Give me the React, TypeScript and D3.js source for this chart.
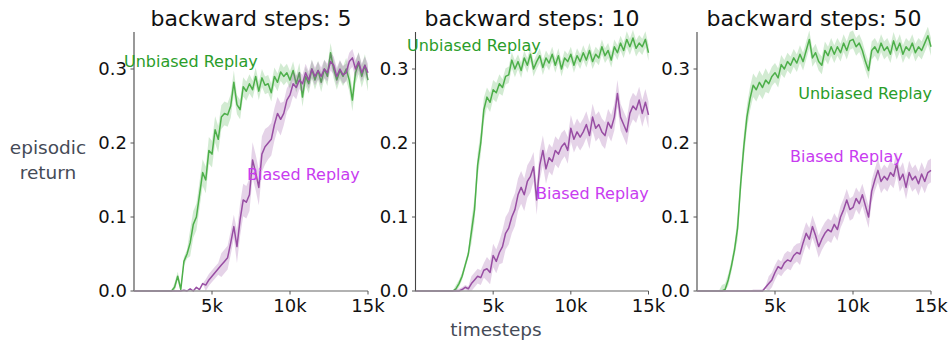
import React from "react";
import * as d3 from "d3";

const STEP = 200;
const TITLES = ["backward steps: 5", "backward steps: 10", "backward steps: 50"];
const X_TICKS = [5000, 10000, 15000];
const X_TICK_LABELS = ["5k", "10k", "15k"];
const Y_TICKS = [0, 0.1, 0.2, 0.3];
const SERIES_NAMES = ["Unbiased Replay", "Biased Replay"];

const unbiased5 = [
  0, 0, 0, 0, 0, 0, 0, 0, 0, 0, 0, 0, 0, 0.005, 0.02, 0.002, 0.04, 0.05, 0.065, 0.09,
  0.1, 0.13, 0.16, 0.15, 0.19, 0.185, 0.218, 0.205, 0.235, 0.24, 0.238, 0.25, 0.282, 0.252, 0.245, 0.276,
  0.27, 0.28, 0.272, 0.29, 0.27, 0.288, 0.278, 0.28, 0.268, 0.29, 0.282, 0.296, 0.29, 0.295, 0.285, 0.298,
  0.28, 0.295, 0.262, 0.29, 0.28, 0.3, 0.285, 0.298, 0.282, 0.3, 0.29, 0.322, 0.3, 0.285, 0.298, 0.29,
  0.3, 0.285, 0.258, 0.295, 0.308, 0.29, 0.305, 0.285,
];
const biased5 = [
  0, 0, 0, 0, 0, 0, 0, 0, 0, 0, 0, 0, 0, 0, 0, 0, 0.001, 0, 0.003, 0,
  0.005, 0.002, 0.01, 0.008, 0.015, 0.02, 0.025, 0.03, 0.035, 0.04, 0.045, 0.065, 0.087, 0.06, 0.096, 0.123,
  0.12, 0.13, 0.177, 0.16, 0.14, 0.185, 0.195, 0.2, 0.205, 0.225, 0.24, 0.232, 0.24, 0.258, 0.265, 0.28,
  0.275, 0.285, 0.28, 0.295, 0.285, 0.3, 0.29, 0.298, 0.29, 0.3, 0.295, 0.31, 0.305, 0.29, 0.3, 0.292,
  0.295, 0.31, 0.315, 0.3, 0.31, 0.295, 0.305, 0.295,
];
const unbiased10 = [
  0, 0, 0, 0, 0, 0, 0, 0, 0, 0, 0, 0, 0, 0.003, 0.01, 0.02, 0.035, 0.05, 0.08, 0.11,
  0.17, 0.2, 0.245, 0.262, 0.255, 0.272, 0.268, 0.28, 0.275, 0.29, 0.292, 0.312, 0.3, 0.31, 0.298, 0.315,
  0.305, 0.32, 0.3, 0.31, 0.318, 0.302, 0.315, 0.308, 0.32, 0.305, 0.318, 0.3, 0.315, 0.31, 0.32, 0.305,
  0.318, 0.31, 0.322, 0.312, 0.325, 0.31, 0.32, 0.315, 0.33, 0.318, 0.325, 0.312, 0.33, 0.322, 0.335, 0.325,
  0.34, 0.33, 0.342, 0.328, 0.335, 0.33, 0.34, 0.322,
];
const biased10 = [
  0, 0, 0, 0, 0, 0, 0, 0, 0, 0, 0, 0, 0, 0, 0, 0.002, 0.005, 0.003, 0.01, 0.015,
  0.02, 0.018, 0.028, 0.03, 0.025, 0.048, 0.04, 0.052, 0.06, 0.078, 0.085, 0.1, 0.11, 0.13, 0.14, 0.13,
  0.148, 0.155, 0.168, 0.123, 0.17, 0.19, 0.165, 0.18, 0.175, 0.19, 0.185, 0.195, 0.2, 0.19, 0.22, 0.205,
  0.215, 0.208, 0.215, 0.225, 0.21, 0.235, 0.22, 0.225, 0.215, 0.21, 0.228, 0.22, 0.235, 0.267, 0.235, 0.225,
  0.215, 0.24, 0.25, 0.245, 0.258, 0.24, 0.255, 0.238,
];
const unbiased50 = [
  0, 0, 0, 0, 0, 0, 0, 0, 0, 0.002, 0.015, 0.033, 0.055, 0.085, 0.145, 0.195, 0.235, 0.26, 0.278, 0.272,
  0.282, 0.275, 0.285, 0.28, 0.29, 0.295, 0.288, 0.306, 0.3, 0.31, 0.305, 0.315, 0.308, 0.32, 0.31, 0.325,
  0.34, 0.315, 0.322, 0.31, 0.305, 0.325, 0.318, 0.33, 0.32, 0.33, 0.322, 0.335, 0.325, 0.338, 0.34, 0.33,
  0.335, 0.325, 0.31, 0.298, 0.325, 0.33, 0.322, 0.335, 0.325, 0.33, 0.32, 0.338, 0.325, 0.335, 0.32, 0.33,
  0.325, 0.335, 0.322, 0.33, 0.325, 0.335, 0.345, 0.33,
];
const biased50 = [
  0, 0, 0, 0, 0, 0, 0, 0, 0, 0, 0, 0, 0, 0, 0, 0, 0, 0, 0, 0,
  0, 0, 0.005, 0.01, 0.015, 0.025, 0.033, 0.03, 0.038, 0.042, 0.04, 0.048, 0.052, 0.05, 0.065, 0.078,
  0.07, 0.087, 0.075, 0.06, 0.07, 0.078, 0.083, 0.08, 0.09, 0.083, 0.1, 0.11, 0.123, 0.11, 0.113, 0.125,
  0.118, 0.13, 0.115, 0.1, 0.135, 0.15, 0.163, 0.148, 0.155, 0.15, 0.16, 0.155, 0.172, 0.15, 0.158, 0.14,
  0.16, 0.15, 0.155, 0.145, 0.158, 0.148, 0.16, 0.163,
];

// band half-widths, one value per 1000 timesteps
const unbiased5Spread = [0, 0, 0, 0.006, 0.018, 0.018, 0.016, 0.013, 0.012, 0.012, 0.012, 0.013, 0.013, 0.013, 0.015, 0.015];
const biased5Spread = [0, 0, 0, 0, 0, 0.008, 0.016, 0.022, 0.024, 0.022, 0.016, 0.012, 0.012, 0.012, 0.012, 0.012];
const unbiased10Spread = [0, 0, 0, 0.005, 0.016, 0.013, 0.011, 0.01, 0.01, 0.01, 0.01, 0.01, 0.01, 0.01, 0.011, 0.011];
const biased10Spread = [0, 0, 0, 0.003, 0.01, 0.016, 0.022, 0.022, 0.02, 0.019, 0.018, 0.018, 0.018, 0.018, 0.018, 0.018];
const unbiased50Spread = [0, 0, 0.008, 0.016, 0.016, 0.013, 0.012, 0.012, 0.012, 0.012, 0.012, 0.012, 0.012, 0.012, 0.012, 0.012];
const biased50Spread = [0, 0, 0, 0, 0.002, 0.01, 0.012, 0.015, 0.015, 0.015, 0.015, 0.015, 0.016, 0.016, 0.016, 0.016];

const panels = [
  { title: TITLES[0], unb: unbiased5, bia: biased5, unbS: unbiased5Spread, biaS: biased5Spread },
  { title: TITLES[1], unb: unbiased10, bia: biased10, unbS: unbiased10Spread, biaS: biased10Spread },
  { title: TITLES[2], unb: unbiased50, bia: biased50, unbS: unbiased50Spread, biaS: biased50Spread },
];

const PANEL_X = [[134, 368], [415.5, 648.5], [697, 931]];
const LABEL_POS = [
  { u: [124, 67, "start"], b: [247, 180, "start"] },
  { u: [407, 51, "start"], b: [536, 199, "start"] },
  { u: [932, 99, "end"], b: [790, 162, "start"] },
];

const GREEN = "#4daf4a";
const PURPLE = "#984ea3";
const GREEN_TEXT = "#2a9d2a";
const PURPLE_TEXT = "#c83cf0";
const FONT = "DejaVu Sans, sans-serif";

export default function App() {
  const y = d3.scaleLinear().domain([0, 0.35]).range([291, 32]);

  const renderSeries = (vals: number[], spread: number[], x: any, color: string) => {
    const pts = vals.map((v, i) => {
      const t = i * STEP;
      const s = spread[Math.round(t / 1000)];
      return { t, v, lo: Math.max(0, v - s), hi: v + s };
    });
    const area = d3.area<any>().x((d) => x(d.t)).y0((d) => y(d.lo)).y1((d) => y(d.hi));
    const line = d3.line<any>().x((d) => x(d.t)).y((d) => y(d.v));
    return (
      <g>
        <path d={area(pts) || ""} fill={color} fillOpacity={0.25} stroke="none" />
        <path d={line(pts) || ""} fill="none" stroke={color} strokeWidth={1.5} strokeLinejoin="round" />
      </g>
    );
  };

  return (
    <svg width={950} height={341} style={{ position: "absolute", left: 0, top: 0, background: "#fff" }} fontFamily={FONT}>
      {panels.map((p, pi) => {
        const [x0, x1] = PANEL_X[pi];
        const x = d3.scaleLinear().domain([0, 15000]).range([x0, x1]);
        const lp = LABEL_POS[pi];
        return (
          <g key={pi}>
            <text x={(x0 + x1) / 2} y={26} textAnchor="middle" fontSize={22} fill="#111">
              {p.title}
            </text>
            {renderSeries(p.unb, p.unbS, x, GREEN)}
            {renderSeries(p.bia, p.biaS, x, PURPLE)}
            <line x1={x0} x2={x0} y1={y(0)} y2={y(0.35)} stroke="#444" strokeWidth={1.1} />
            <line x1={x0} x2={x1} y1={y(0)} y2={y(0)} stroke="#999" strokeWidth={1.4} />
            {Y_TICKS.map((t) => (
              <g key={t}>
                <line x1={x0 - 3.5} x2={x0} y1={y(t)} y2={y(t)} stroke="#555" strokeWidth={1} />
                <text x={x0 - 7} y={y(t)} dy="0.36em" textAnchor="end" fontSize={18} fill="#111">
                  {t.toFixed(1)}
                </text>
              </g>
            ))}
            {X_TICKS.map((t, ti) => (
              <g key={t}>
                <line x1={x(t)} x2={x(t)} y1={y(0)} y2={y(0) + 3.5} stroke="#555" strokeWidth={1} />
                <text x={x(t)} y={312} textAnchor="middle" fontSize={18} fill="#111">
                  {X_TICK_LABELS[ti]}
                </text>
              </g>
            ))}
            <text x={lp.u[0] as number} y={lp.u[1] as number} textAnchor={lp.u[2] as any} fontSize={16} fill={GREEN_TEXT}>
              {SERIES_NAMES[0]}
            </text>
            <text x={lp.b[0] as number} y={lp.b[1] as number} textAnchor={lp.b[2] as any} fontSize={16} fill={PURPLE_TEXT}>
              {SERIES_NAMES[1]}
            </text>
          </g>
        );
      })}
      <text x={48} y={154} textAnchor="middle" fontSize={18.5} fill="#454b57">episodic</text>
      <text x={48} y={179} textAnchor="middle" fontSize={18.5} fill="#454b57">return</text>
      <text x={496} y={336} textAnchor="middle" fontSize={18.5} fill="#454b57">timesteps</text>
    </svg>
  );
}
